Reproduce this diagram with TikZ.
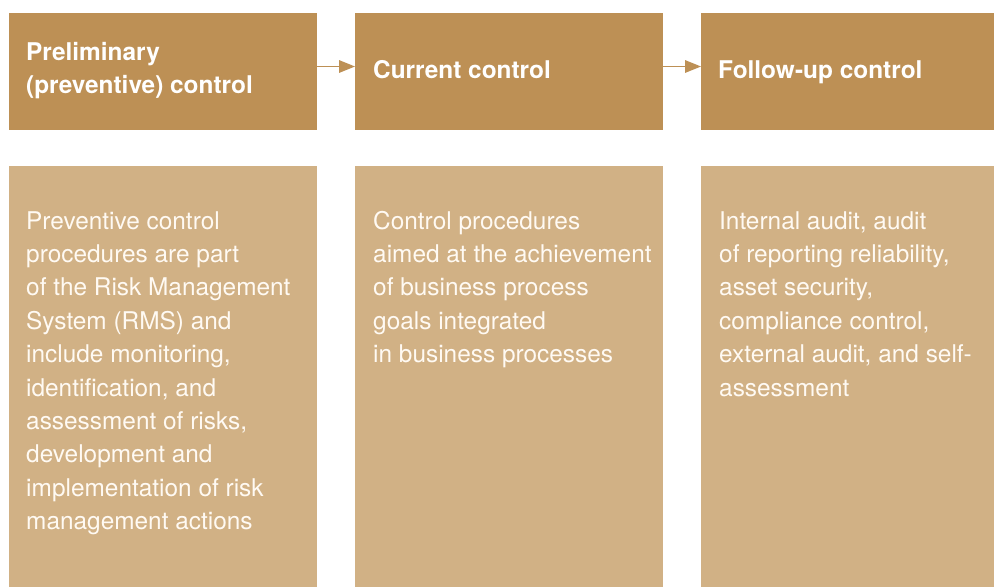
\documentclass[tikz,border=0pt]{standalone}
\usepackage{fontspec}
\setmainfont{TeX Gyre Heros}
\usetikzlibrary{arrows.meta,calc}
\definecolor{headtan}{RGB}{189,144,85}
\definecolor{bodytan}{RGB}{209,177,133}
\definecolor{bodyink}{RGB}{255,250,243}
\begin{document}
\begin{tikzpicture}[x=1pt,y=-1pt,
  panel/.style={draw=none, inner sep=0pt, outer sep=0pt, anchor=north west},
  headbox/.style={panel, fill=headtan, minimum height=117pt},
  bodybox/.style={panel, fill=bodytan, minimum height=421pt},
  headtext/.style={text=white, font=\fontsize{24.4}{33}\selectfont\bfseries,
    align=left, inner sep=0pt, anchor=base west},
  bodytext/.style={text=bodyink, font=\fontsize{24.4}{33.4}\selectfont,
    align=left, inner sep=0pt, anchor=base west},
  flow/.style={draw=headtan, line width=1.2pt,
    -{Triangle[length=16pt,width=12.6pt]}}]
\useasboundingbox (0,0) rectangle (994,587);

% header bands
\node[headbox, minimum width=308pt] (h1) at (9,13) {};
\node[headbox, minimum width=308pt] (h2) at (355,13) {};
\node[headbox, minimum width=293pt] (h3) at (701,13) {};

% description panels
\node[bodybox, minimum width=308pt] (b1) at (9,166) {};
\node[bodybox, minimum width=308pt] (b2) at (355,166) {};
\node[bodybox, minimum width=293pt] (b3) at (701,166) {};

% header titles (anchored on the baseline of their last line)
\node[headtext] (t1) at (26,93) {Preliminary\\(preventive) control};
\node[headtext] (t2) at (373,78) {Current control};
\node[headtext] (t3) at (718,78) {Follow-up control};

% panel texts (anchored on the baseline of their last line)
\node[bodytext] (d1) at (26,529.6) {Preventive control\\procedures are part\\of the Risk Management\\System (RMS) and\\include monitoring,\\identification, and\\assessment of risks,\\development and\\implementation of risk\\management actions};
\node[bodytext] (d2) at (373,362.6) {Control procedures\\aimed at the achievement\\of business process\\goals integrated\\in business processes};
\node[bodytext] (d3) at (719,396) {Internal audit, audit\\of reporting reliability,\\asset security,\\compliance control,\\external audit, and self-\\assessment};

% flow arrows between stages
\draw[flow] ($(h1.east)+(0,-5)$) -- ($(h2.west)+(0,-5)$);
\draw[flow] ($(h2.east)+(0,-5)$) -- ($(h3.west)+(0,-5)$);
\end{tikzpicture}
\end{document}
